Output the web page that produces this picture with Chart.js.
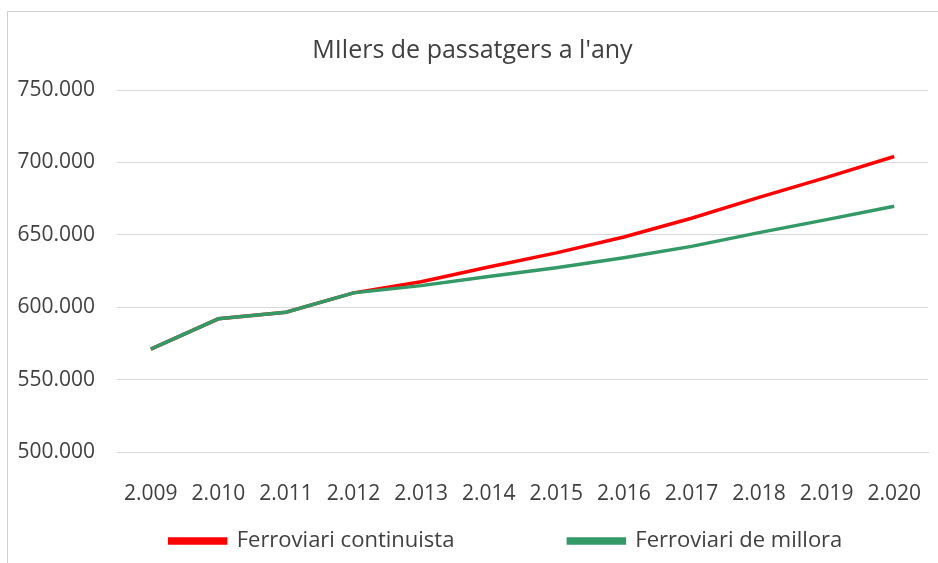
<!DOCTYPE html>
<html>
<head>
<meta charset="utf-8">
<script src="https://cdn.jsdelivr.net/npm/chart.js@4"></script>
<style>
  html, body { margin: 0; padding: 0; background: #fff; overflow: hidden; }
  #box {
    position: absolute; left: 7px; top: 11px; width: 960px; height: 560px;
    border: 1px solid #d0d0d0; box-sizing: border-box;
  }
  #wrap { position: absolute; left: 0; top: 0; width: 932px; height: 552px; }
</style>
</head>
<body>
<div id="box"><div id="wrap"><canvas id="myChart"></canvas></div></div>
<script>
const years = ["2.009", "2.010", "2.011", "2.012", "2.013", "2.014", "2.015", "2.016", "2.017", "2.018", "2.019", "2.020"];
const continuista = [571000, 592000, 596500, 609900, 617600, 627800, 637500, 648500, 661400, 675900, 689700, 704100];
const millora = [571000, 592000, 596500, 609900, 614900, 621200, 627200, 634200, 642000, 651500, 660500, 669700];
const seriesNames = ["Ferroviari continuista", "Ferroviari de millora"];
const titleText = "MIlers de passatgers a l'any";

const FONT = "'Open Sans', sans-serif";
const textColor = "#404040";
// extra blank space after the legend texts, so the two items sit far apart like in Excel
const legendTails = ["\u2003\u2003\u2003\u2003", "\u2002\u2002\u2002"];

function fmt(v) {
  return v.toLocaleString("de-DE");
}

new Chart("myChart", {
  type: "line",
  data: {
    labels: years,
    datasets: [
      {
        label: seriesNames[0],
        data: continuista,
        borderColor: "#ff0000",
        backgroundColor: "#ff0000",
        borderWidth: 3.5,
        pointRadius: 0,
        tension: 0,
        order: 1, // drawn under the green line
      },
      {
        label: seriesNames[1],
        data: millora,
        borderColor: "#339966",
        backgroundColor: "#339966",
        borderWidth: 3.5,
        pointRadius: 0,
        tension: 0,
        order: 0,
      },
    ],
  },
  options: {
    responsive: true,
    maintainAspectRatio: false,
    animation: false,
    layout: { padding: { left: 9, right: 12, top: 24, bottom: 2 } },
    plugins: {
      title: {
        display: true,
        text: titleText,
        color: textColor,
        font: { family: FONT, size: 25, weight: "normal" },
        padding: { top: 0, bottom: 24 },
      },
      legend: {
        position: "bottom",
        fullSize: false,
        labels: {
          color: textColor,
          font: { family: FONT, size: 22 },
          boxWidth: 56,
          boxHeight: 4,
          padding: 26,
          sort: (a, b) => a.datasetIndex - b.datasetIndex,
          generateLabels: (chart) => {
            const items = Chart.defaults.plugins.legend.labels.generateLabels(chart);
            items.forEach((it) => {
              it.text = it.text + legendTails[it.datasetIndex];
            });
            return items;
          },
        },
      },
      tooltip: { enabled: false },
    },
    scales: {
      x: {
        offset: true,
        grid: { display: false, drawTicks: false },
        border: { display: true, color: "#d9d9d9" },
        ticks: {
          color: textColor,
          font: { family: FONT, size: 21 },
          padding: 29,
          maxRotation: 0,
        },
        afterFit: (scale) => {
          scale.height = 52;
          scale.paddingLeft = 0;
          scale.paddingRight = 0;
        },
      },
      y: {
        min: 500000,
        max: 750000,
        grid: { color: "#d9d9d9", drawTicks: false },
        border: { display: false },
        ticks: {
          stepSize: 50000,
          color: textColor,
          font: { family: FONT, size: 21 },
          padding: 22,
          callback: (v) => fmt(v),
        },
        afterFit: (scale) => {
          scale.width = 100;
        },
      },
    },
  },
});
</script>
</body>
</html>
